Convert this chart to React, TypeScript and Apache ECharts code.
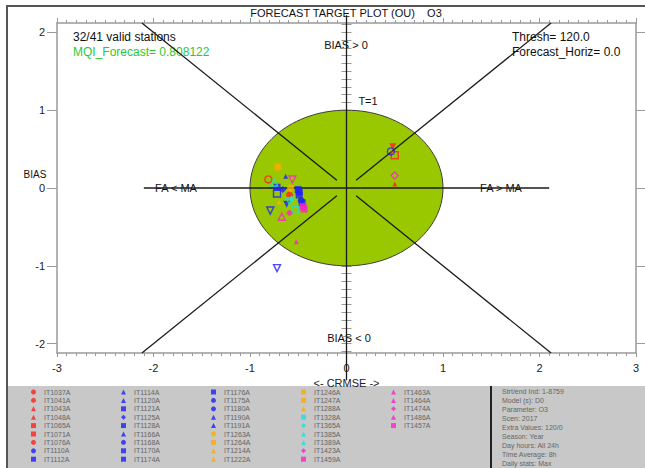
import { useEffect, useRef } from 'react';
import * as echarts from 'echarts';

// Station list, in legend order (five columns of nine)
const stations = [
  'IT1037A', 'IT1041A', 'IT1043A', 'IT1048A', 'IT1065A', 'IT1071A', 'IT1076A', 'IT1110A', 'IT1112A',
  'IT1114A', 'IT1120A', 'IT1121A', 'IT1125A', 'IT1128A', 'IT1166A', 'IT1168A', 'IT1170A', 'IT1174A',
  'IT1176A', 'IT1175A', 'IT1180A', 'IT1190A', 'IT1191A', 'IT1263A', 'IT1264A', 'IT1214A', 'IT1222A',
  'IT1246A', 'IT1247A', 'IT1288A', 'IT1328A', 'IT1365A', 'IT1385A', 'IT1389A', 'IT1423A', 'IT1459A',
  'IT1463A', 'IT1464A', 'IT1474A', 'IT1486A', 'IT1457A',
];

// Normalised CRMSE (signed) per station; null = not a valid station
const crmse: (number | null)[] = [
  -0.59, -0.81, 0.5, 0.48, 0.5, null, null, 0.46, -0.72,
  -0.63, -0.79, -0.72, -0.66, -0.49, -0.62, -0.47, -0.46, -0.49,
  -0.5, null, null, null, -0.72, -0.58, -0.71, -0.7, null,
  null, null, null, -0.53, -0.57, -0.75, -0.59, 0.5, -0.45,
  -0.67, -0.56, -0.59, -0.52, -0.44,
];

// Normalised BIAS per station
const bias: (number | null)[] = [
  -0.09, 0.11, 0.05, 0.53, 0.42, null, null, 0.47, -0.07,
  0.15, -0.29, 0.01, -0.02, -0.05, -0.21, -0.16, -0.19, -0.09,
  -0.02, null, null, null, -1.03, 0.0, 0.27, -0.18, null,
  null, null, null, -0.28, -0.14, 0.07, -0.17, 0.16, -0.24,
  -0.37, 0.11, -0.32, -0.69, -0.27,
];

// Marker colour group per station
const stationColor = [
  'red', 'red', 'red', 'red', 'red', 'red', 'red', 'blue', 'blue',
  'blue', 'blue', 'blue', 'blue', 'blue', 'blue', 'blue', 'blue', 'blue',
  'blue', 'blue', 'blue', 'blue', 'blue', 'orange', 'orange', 'orange', 'orange',
  'orange', 'orange', 'orange', 'cyan', 'cyan', 'cyan', 'cyan', 'magenta', 'magenta',
  'magenta', 'magenta', 'magenta', 'magenta', 'magenta',
];

// Marker shape per station ('down' = triangle pointing down)
const stationShape = [
  'circle', 'circle', 'triangle', 'down', 'rect', 'rect', 'circle', 'circle', 'rect',
  'triangle', 'down', 'rect', 'diamond', 'rect', 'down', 'circle', 'rect', 'rect',
  'rect', 'circle', 'circle', 'triangle', 'down', 'circle', 'rect', 'triangle', 'down',
  'rect', 'rect', 'triangle', 'rect', 'diamond', 'triangle', 'down', 'diamond', 'rect',
  'triangle', 'down', 'diamond', 'triangle', 'rect',
];

// Hollow markers
const stationHollow = [
  false, true, false, false, true, false, false, true, true,
  false, true, false, false, false, false, false, false, false,
  false, false, false, false, true, false, false, false, false,
  false, false, false, true, false, true, true, true, false,
  true, true, false, false, false,
];

// Small markers
const stationSmall = [
  false, false, true, false, false, true, true, false, false,
  true, false, false, false, false, false, false, false, false,
  false, false, false, false, false, false, false, true, false,
  true, true, true, false, false, false, false, false, false,
  false, false, false, true, false,
];

const palette: Record<string, string> = {
  red: '#ff2020',
  blue: '#1f1fff',
  orange: '#ffaa00',
  cyan: '#19e3dc',
  magenta: '#ff1fcf',
};

const xTicks = [-3, -2, -1, 0, 1, 2, 3];
const yTicks = [-2, -1, 0, 1, 2];
const yMinorTicks = Array.from({ length: 43 }, (_, i) => (i - 21) / 10);

// Target-plot reference geometry: [x1, y1, x2, y2]
const refLines = [
  [-2.1, 0, 2.1, 0],
  [0, -2.47, 0, 2.22],
  [-0.1, 0.1, -2.12, 2.12],
  [0.1, 0.1, 2.12, 2.12],
  [-0.1, -0.1, -2.12, -2.12],
  [0.1, -0.1, 2.12, -2.12],
];
const targetRadius = 1;

const infoLines = [
  'Strt/end Ind: 1-8759',
  'Model (s): D0',
  'Parameter: O3',
  'Scen: 2017',
  'Extra Values: 120/0',
  'Season: Year',
  'Day hours: All 24h',
  'Time Average: 8h',
  'Daily stats: Max',
];

const FONT = '"Liberation Sans", Arial, sans-serif';
const AXIS_GRAY = '#9a9a9a';
const Y_MIN = -2.12;
const Y_MAX = 2.12;

export default function App() {
  const ref = useRef<HTMLDivElement>(null);

  useEffect(() => {
    document.body.style.margin = '0';
    const chart = echarts.init(ref.current!, undefined, { renderer: 'svg' });

    const stationSeries = stations.map((name, i) => {
      const color = palette[stationColor[i]];
      const shape = stationShape[i];
      const hollow = stationHollow[i];
      const valid = crmse[i] !== null && bias[i] !== null;
      return {
        type: 'scatter',
        name,
        z: 5,
        symbol: shape === 'down' ? 'triangle' : shape,
        symbolRotate: shape === 'down' ? 180 : 0,
        symbolSize: stationSmall[i] ? 5 : 7,
        itemStyle: {
          color: hollow ? 'rgba(0,0,0,0)' : color,
          borderColor: color,
          borderWidth: hollow ? 1.4 : 0,
        },
        emphasis: { disabled: true },
        data: valid ? [[crmse[i], bias[i]]] : [],
      };
    });

    // Compact legend icons: filled, small, one per station
    const legends = [0, 1, 2, 3, 4].map((col) => ({
      orient: 'vertical',
      left: 31 + col * 90,
      top: 388,
      padding: 0,
      itemWidth: 5,
      itemHeight: 5,
      itemGap: 0.4,
      selectedMode: false,
      itemStyle: { borderWidth: 0 },
      textStyle: {
        fontSize: 7,
        lineHeight: 8,
        color: '#666',
        fontFamily: FONT,
        padding: [0, 0, 0, 3],
      },
      data: stations.slice(col * 9, col * 9 + 9).map((n) => {
        const i = stations.indexOf(n);
        return {
          name: n,
          itemStyle: { color: palette[stationColor[i]], borderWidth: 0 },
        };
      }),
    }));

    const txt = (x: number, y: number, text: string, extra: any = {}) => ({
      type: 'text',
      x,
      y,
      silent: true,
      style: {
        text,
        fontFamily: FONT,
        fontSize: 12,
        fill: '#111',
        verticalAlign: 'middle',
        textAlign: 'left',
        ...extra,
      },
    });

    chart.setOption({
      animation: false,
      backgroundColor: '#fff',
      grid: { left: 57, right: 9, top: 23, bottom: 115 },
      legend: legends,
      xAxis: [
        {
          type: 'value',
          min: xTicks[0],
          max: xTicks[xTicks.length - 1],
          interval: 1,
          position: 'bottom',
          name: '<- CRMSE ->',
          nameLocation: 'middle',
          nameGap: 14,
          nameTextStyle: { fontFamily: FONT, fontSize: 11, color: '#222' },
          axisLine: { onZero: false, lineStyle: { color: AXIS_GRAY, width: 1.5 } },
          axisTick: { length: 4, lineStyle: { color: AXIS_GRAY } },
          minorTick: { show: true, splitNumber: 10, length: 3, lineStyle: { color: AXIS_GRAY } },
          splitLine: { show: false },
          axisLabel: { margin: 9, fontFamily: FONT, fontSize: 11, color: '#222' },
        },
        {
          type: 'value',
          min: xTicks[0],
          max: xTicks[xTicks.length - 1],
          interval: 1,
          position: 'top',
          axisLine: { onZero: false, lineStyle: { color: AXIS_GRAY, width: 1.5 } },
          axisTick: { length: 5, lineStyle: { color: AXIS_GRAY } },
          minorTick: { show: true, splitNumber: 10, length: 3, lineStyle: { color: AXIS_GRAY } },
          splitLine: { show: false },
          axisLabel: { show: false },
        },
      ],
      yAxis: [
        {
          type: 'value',
          min: Y_MIN,
          max: Y_MAX,
          position: 'left',
          axisLine: { show: true, onZero: false, lineStyle: { color: AXIS_GRAY, width: 1.5 } },
          axisTick: { show: true, length: 10, customValues: yTicks, lineStyle: { color: AXIS_GRAY } },
          splitLine: { show: false },
          axisLabel: { margin: 12, customValues: yTicks, fontFamily: FONT, fontSize: 11, color: '#222' },
        },
        {
          type: 'value',
          min: Y_MIN,
          max: Y_MAX,
          position: 'left',
          axisLine: { show: false },
          axisTick: { show: true, length: 5, customValues: yMinorTicks, lineStyle: { color: AXIS_GRAY } },
          splitLine: { show: false },
          axisLabel: { show: false },
        },
        {
          type: 'value',
          min: Y_MIN,
          max: Y_MAX,
          position: 'right',
          axisLine: { show: true, onZero: false, lineStyle: { color: AXIS_GRAY, width: 1.5 } },
          axisTick: { show: true, length: 9, customValues: yTicks, lineStyle: { color: AXIS_GRAY } },
          splitLine: { show: false },
          axisLabel: { show: false },
        },
        {
          type: 'value',
          min: Y_MIN,
          max: Y_MAX,
          position: 'right',
          axisLine: { show: false },
          axisTick: { show: true, length: 5, customValues: yMinorTicks, lineStyle: { color: AXIS_GRAY } },
          splitLine: { show: false },
          axisLabel: { show: false },
        },
      ],
      series: [
        {
          type: 'custom',
          name: 'target',
          z: 1,
          silent: true,
          clip: false,
          renderItem: (_p: any, api: any) => {
            const c = api.coord([0, 0]);
            const s = api.size([api.value(0), api.value(0)]);
            return {
              type: 'ellipse',
              shape: { cx: c[0], cy: c[1], rx: s[0], ry: s[1] },
              style: { fill: '#99c800', stroke: '#3a3a3a', lineWidth: 1 },
            };
          },
          data: [[targetRadius]],
        },
        {
          type: 'custom',
          name: 'zones',
          z: 2,
          silent: true,
          clip: false,
          renderItem: (_p: any, api: any) => {
            const a = api.coord([api.value(0), api.value(1)]);
            const b = api.coord([api.value(2), api.value(3)]);
            return {
              type: 'line',
              shape: { x1: a[0], y1: a[1], x2: b[0], y2: b[1] },
              style: { stroke: '#1a1a1a', lineWidth: 1.3 },
            };
          },
          data: refLines,
        },
        ...stationSeries,
      ],
      graphic: [
        {
          type: 'polyline',
          silent: true,
          shape: { points: [[7, 468], [7, 6], [645, 6]] },
          style: { stroke: '#555', lineWidth: 2, fill: 'none' },
        },
        {
          type: 'rect',
          silent: true,
          z: -1,
          shape: { x: 8, y: 386, width: 637, height: 82 },
          style: { fill: '#c8c8c8' },
        },
        {
          type: 'line',
          silent: true,
          shape: { x1: 491, y1: 386, x2: 491, y2: 468 },
          style: { stroke: '#222', lineWidth: 2 },
        },
        ...infoLines.map((t, i) => txt(502, 391 + i * 9, t, { fontSize: 7, fill: '#666' })),
        txt(346, 13, 'FORECAST TARGET PLOT (OU)    O3', { fontSize: 11, textAlign: 'center' }),
        txt(73, 37, '32/41 valid stations'),
        txt(73, 52, 'MQI_Forecast= 0.808122', { fill: '#2ec82e' }),
        txt(512, 37, 'Thresh= 120.0'),
        txt(512, 52, 'Forecast_Horiz= 0.0'),
        txt(346, 45, 'BIAS > 0', { fontSize: 11, textAlign: 'center' }),
        txt(368, 101, 'T=1', { fontSize: 11, textAlign: 'center' }),
        txt(176, 188, 'FA < MA', { fontSize: 11, textAlign: 'center' }),
        txt(501, 188, 'FA > MA', { fontSize: 11, textAlign: 'center' }),
        txt(349, 338, 'BIAS < 0', { fontSize: 11, textAlign: 'center' }),
        txt(35, 174, 'BIAS', { fontSize: 10, textAlign: 'center' }),
      ],
    });

    return () => chart.dispose();
  }, []);

  return (
    <div
      ref={ref}
      style={{ position: 'fixed', left: 0, top: 0, width: 645, height: 468 }}
    />
  );
}
